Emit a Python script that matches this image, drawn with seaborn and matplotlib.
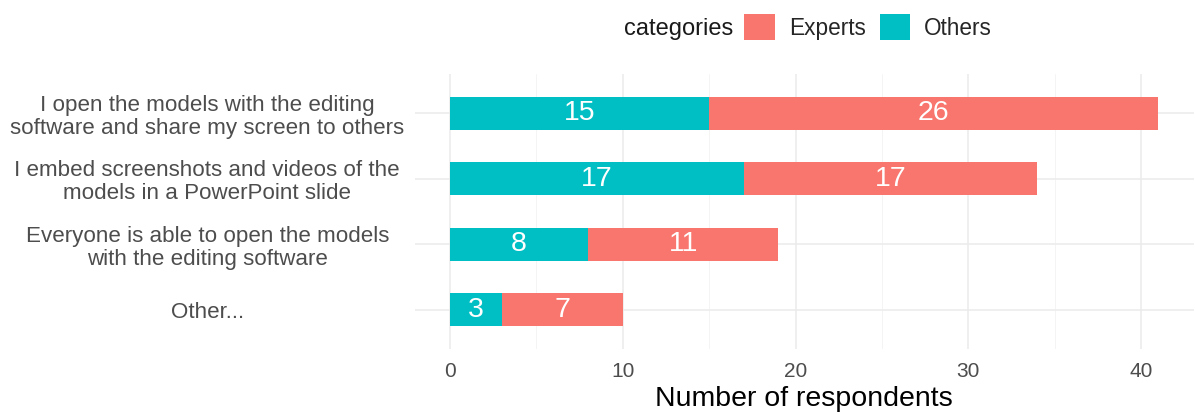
import matplotlib
matplotlib.use("Agg")
import matplotlib.pyplot as plt
import matplotlib.patches as mpatches
import pandas as pd
import seaborn as sns

questions = [
    "I open the models with the editing\nsoftware and share my screen to others",
    "I embed screenshots and videos of the\nmodels in a PowerPoint slide",
    "Everyone is able to open the models\nwith the editing software",
    "Other...",
]
others = [15, 17, 8, 3]
experts = [26, 17, 11, 7]
x_ticks = [0, 10, 20, 30, 40]

red = "#F8766D"
teal = "#00BFC4"

df = pd.DataFrame({"question": questions, "Others": others, "Experts": experts})
df["total"] = df["Others"] + df["Experts"]

sns.set_theme(style="white")
plt.rcParams["font.family"] = ["Liberation Sans", "DejaVu Sans"]

fig = plt.figure(figsize=(11.95, 4.16), dpi=100)
ax = fig.add_axes([0.347, 0.161, 0.652, 0.661])

# stacked: total in red behind, Others in teal on top
sns.barplot(data=df, y="question", x="total", color=red, width=0.5,
            saturation=1, linewidth=0, ax=ax, zorder=3)
sns.barplot(data=df, y="question", x="Others", color=teal, width=0.5,
            saturation=1, linewidth=0, ax=ax, zorder=4)

for i, (o, e) in enumerate(zip(others, experts)):
    ax.text(o / 2, i, str(o), ha="center", va="center", color="white",
            fontsize=20.5, zorder=5)
    ax.text(o + e / 2, i, str(e), ha="center", va="center", color="white",
            fontsize=20.5, zorder=5)

ax.set_xlim(-2.05, 43.05)
ax.set_ylim(3.6, -0.6)
ax.set_xticks(x_ticks)
ax.set_xticks([5, 15, 25, 35], minor=True)
ax.grid(True, which="major", color="#EBEBEB", linewidth=1.1, zorder=0)
ax.grid(True, which="minor", axis="x", color="#F2F2F2", linewidth=0.6, zorder=0)
for s in ax.spines.values():
    s.set_visible(False)
ax.tick_params(axis="both", which="both", length=0)
ax.tick_params(axis="y", pad=8, labelsize=16.1, labelcolor="#4D4D4D")
ax.tick_params(axis="x", pad=9, labelsize=15, labelcolor="#4D4D4D")
for lbl in ax.get_yticklabels():
    lbl.set_horizontalalignment("center")
    lbl.set_linespacing(1.12)
    lbl.set_x(-0.252)
ax.set_ylabel("")
ax.set_xlabel("Number of respondents", fontsize=20.5, color="black", labelpad=4)

handles = [mpatches.Patch(facecolor=red, edgecolor="none", label="Experts"),
           mpatches.Patch(facecolor=teal, edgecolor="none", label="Others")]
fig.text(0.522, 0.931, "categories", fontsize=17, color="#1A1A1A",
         ha="left", va="center")
fig.legend(handles=handles, loc="center left", bbox_to_anchor=(0.623, 0.935),
           ncol=2, frameon=False, fontsize=16.3, handlelength=1.33,
           handleheight=1.33, handletextpad=0.62, columnspacing=0.62,
           borderaxespad=0, borderpad=0)

fig.savefig("out.png", dpi=100)
